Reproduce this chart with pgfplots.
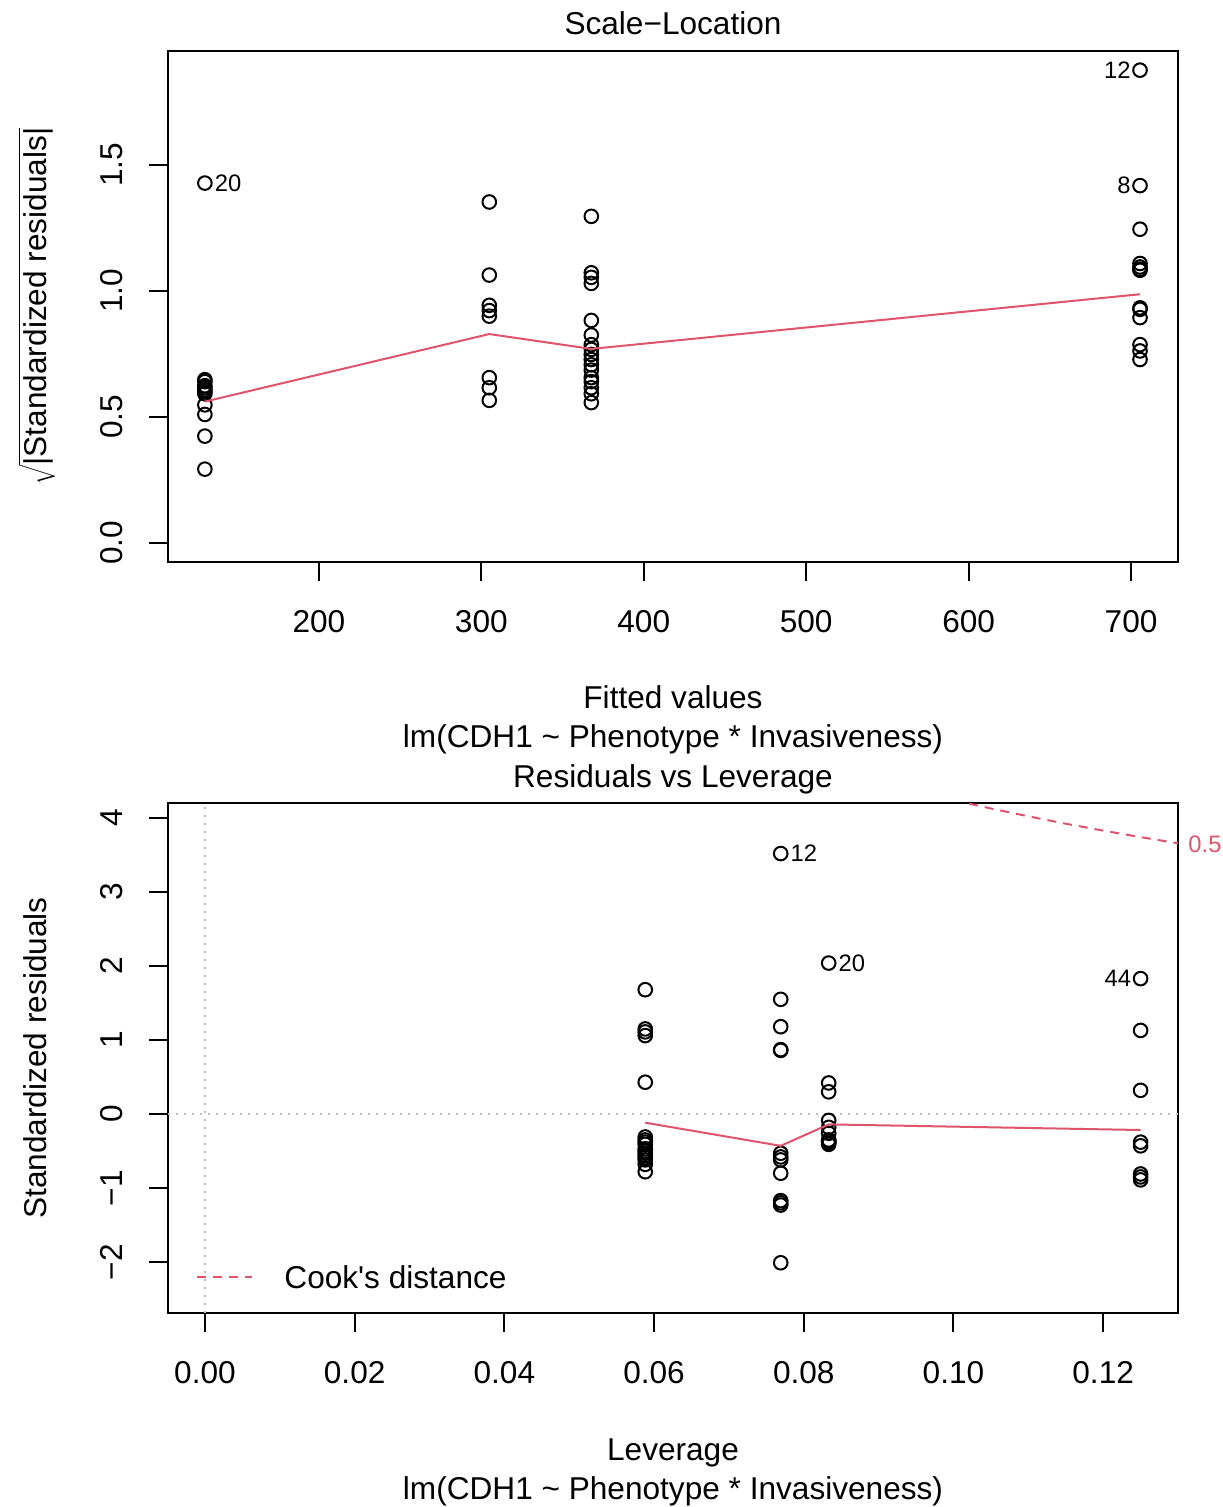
\documentclass[border=0pt]{standalone}
\usepackage{fontspec}
\setmainfont{Liberation Sans}[Ligatures=TeXOff]
\usepackage{pgfplots}
\pgfplotsset{compat=1.18}

\definecolor{rred}{HTML}{DF536B}
\definecolor{rgray}{HTML}{BEBEBE}
\newcommand\mainf{\fontsize{15.8}{19}\selectfont}
\newcommand\idf{\fontsize{11.9}{14}\selectfont}

\pgfplotsset{
  rpanel/.style={
    scale only axis, width=505pt,
    axis line style={line width=1pt},
    tick align=outside, tick pos=left,
    major tick length=9.5pt,
    every tick/.style={black, line width=1pt},
    tick label style={font=\mainf, inner sep=0pt},
    xticklabel style={anchor=base, yshift=-25.7pt},
    yticklabel style={xshift=-13.4pt, rotate=90, anchor=base},
    clip mode=individual,
    /pgf/number format/assume math mode=true,
  },
  rpts/.style={only marks, mark=o, mark size=3.4pt,
    mark options={black, line width=1pt}},
  rsmooth/.style={rred, line width=1pt, no marks},
}
\tikzset{
  idlab/.style={font=\idf, inner sep=0pt},
  ttl/.style={font=\mainf, inner sep=0pt, anchor=base},
}

\begin{document}
\begin{tikzpicture}
\useasboundingbox (0,0) rectangle (611pt,-753.5pt);

% ---------------- Scale-Location ----------------
\begin{axis}[rpanel, at={(84pt,-281pt)}, anchor=south west, height=255.5pt,
  xmin=107.1, xmax=728.9, ymin=-0.0754, ymax=1.952,
  xtick={200,300,400,500,600,700},
  xticklabels={200,300,400,500,600,700},
  ytick={0,0.5,1,1.5}, yticklabels={0.0,0.5,1.0,1.5}]
\addplot[rpts] table {
x y
129.8 1.428
129.8 0.648
129.8 0.548
129.8 0.293
129.8 0.424
129.8 0.510
129.8 0.592
129.8 0.600
129.8 0.608
129.8 0.616
129.8 0.624
129.8 0.640
304.9 1.353
304.9 1.063
304.9 0.566
304.9 0.616
304.9 0.656
304.9 0.900
304.9 0.922
304.9 0.943
367.7 1.296
367.7 1.072
367.7 1.054
367.7 1.030
367.7 0.656
367.7 0.557
367.7 0.592
367.7 0.616
367.7 0.640
367.7 0.686
367.7 0.707
367.7 0.728
367.7 0.748
367.7 0.768
367.7 0.787
367.7 0.825
367.7 0.883
705.5 1.876
705.5 1.245
705.5 1.086
705.5 0.933
705.5 0.927
705.5 0.728
705.5 0.762
705.5 0.787
705.5 0.894
705.5 1.082
705.5 1.095
705.5 1.109
705.5 1.418
};
\addplot[rsmooth] coordinates {(129.8,0.561) (304.9,0.829) (367.7,0.770) (705.5,0.987)};
\node[idlab, anchor=west] at ([xshift=4.8pt]axis cs:129.8,1.428) {20};
\node[idlab, anchor=east] at ([xshift=-4.5pt]axis cs:705.5,1.876) {12};
\node[idlab, anchor=east] at ([xshift=-4.5pt]axis cs:705.5,1.418) {8};
\node[ttl] at ([yshift=8.3pt]rel axis cs:0.5,1) {Scale−Location};
\node[ttl] at ([yshift=-73.2pt]rel axis cs:0.5,0) {Fitted values};
\node[ttl] at ([yshift=-92.7pt]rel axis cs:0.5,0) {lm(CDH1 \textasciitilde{} Phenotype * Invasiveness)};
\node[ttl, rotate=90] at ([xshift=-60.9pt]rel axis cs:0,0.5)
  {$\sqrt{\mbox{\mainf|Standardized residuals|}}$};
\end{axis}

% ---------------- Residuals vs Leverage ----------------
\begin{axis}[rpanel, at={(84pt,-656.5pt)}, anchor=south west, height=255pt,
  xmin=-0.00494, xmax=0.130, ymin=-2.689, ymax=4.203,
  xtick={0,0.02,0.04,0.06,0.08,0.10,0.12},
  xticklabels={0.00,0.02,0.04,0.06,0.08,0.10,0.12},
  ytick={-2,-1,0,1,2,3,4}, yticklabels={−2,−1,0,1,2,3,4}]
\addplot[rgray, line width=1pt, dash pattern=on 1pt off 3pt] coordinates {(-0.00494,0) (0.130,0)};
\addplot[rgray, line width=1pt, dash pattern=on 1pt off 3pt] coordinates {(0,-2.689) (0,4.203)};
\addplot[rpts] table {
x y
0.08333 2.04
0.08333 0.42
0.08333 0.30
0.08333 -0.086
0.08333 -0.18
0.08333 -0.26
0.08333 -0.35
0.08333 -0.36
0.08333 -0.37
0.08333 -0.38
0.08333 -0.39
0.08333 -0.41
0.125 1.83
0.125 1.13
0.125 0.32
0.125 -0.38
0.125 -0.43
0.125 -0.81
0.125 -0.85
0.125 -0.89
0.05882 1.68
0.05882 1.15
0.05882 1.11
0.05882 1.06
0.05882 0.43
0.05882 -0.31
0.05882 -0.35
0.05882 -0.38
0.05882 -0.41
0.05882 -0.47
0.05882 -0.50
0.05882 -0.53
0.05882 -0.56
0.05882 -0.59
0.05882 -0.62
0.05882 -0.68
0.05882 -0.78
0.07692 3.52
0.07692 1.55
0.07692 1.18
0.07692 0.87
0.07692 0.86
0.07692 -0.53
0.07692 -0.58
0.07692 -0.62
0.07692 -0.80
0.07692 -1.17
0.07692 -1.20
0.07692 -1.23
0.07692 -2.01
};
\addplot[rsmooth] coordinates {(0.05882,-0.117) (0.07692,-0.430) (0.08333,-0.140) (0.125,-0.216)};
% Cook's distance contour at 0.5
\addplot[rred, line width=1pt, dash pattern=on 4.5pt off 3.5pt, no marks] coordinates {
(0.100,4.243) (0.102,4.196) (0.105,4.129) (0.110,4.023) (0.115,3.923)
(0.120,3.830) (0.125,3.742) (0.130,3.659)};
\node[idlab, anchor=west, text=rred] at ([xshift=5pt]axis cs:0.130,3.64) {0.5};
\node[idlab, anchor=west] at ([xshift=4.8pt]axis cs:0.07692,3.52) {12};
\node[idlab, anchor=west] at ([xshift=4.8pt]axis cs:0.08333,2.04) {20};
\node[idlab, anchor=east] at ([xshift=-4.5pt]axis cs:0.125,1.83) {44};
\draw[rred, line width=1pt, dash pattern=on 4.5pt off 3.5pt]
  (rel axis cs:0.0287,0.0706) -- (rel axis cs:0.0832,0.0706);
\node[ttl, anchor=base west] at (rel axis cs:0.1149,0.049) {Cook's distance};
\node[ttl] at ([yshift=8pt]rel axis cs:0.5,1) {Residuals vs Leverage};
\node[ttl] at ([yshift=-73.5pt]rel axis cs:0.5,0) {Leverage};
\node[ttl] at ([yshift=-93pt]rel axis cs:0.5,0) {lm(CDH1 \textasciitilde{} Phenotype * Invasiveness)};
\node[ttl, rotate=90] at ([xshift=-60.9pt]rel axis cs:0,0.5) {Standardized residuals};
\end{axis}
\end{tikzpicture}
\end{document}
